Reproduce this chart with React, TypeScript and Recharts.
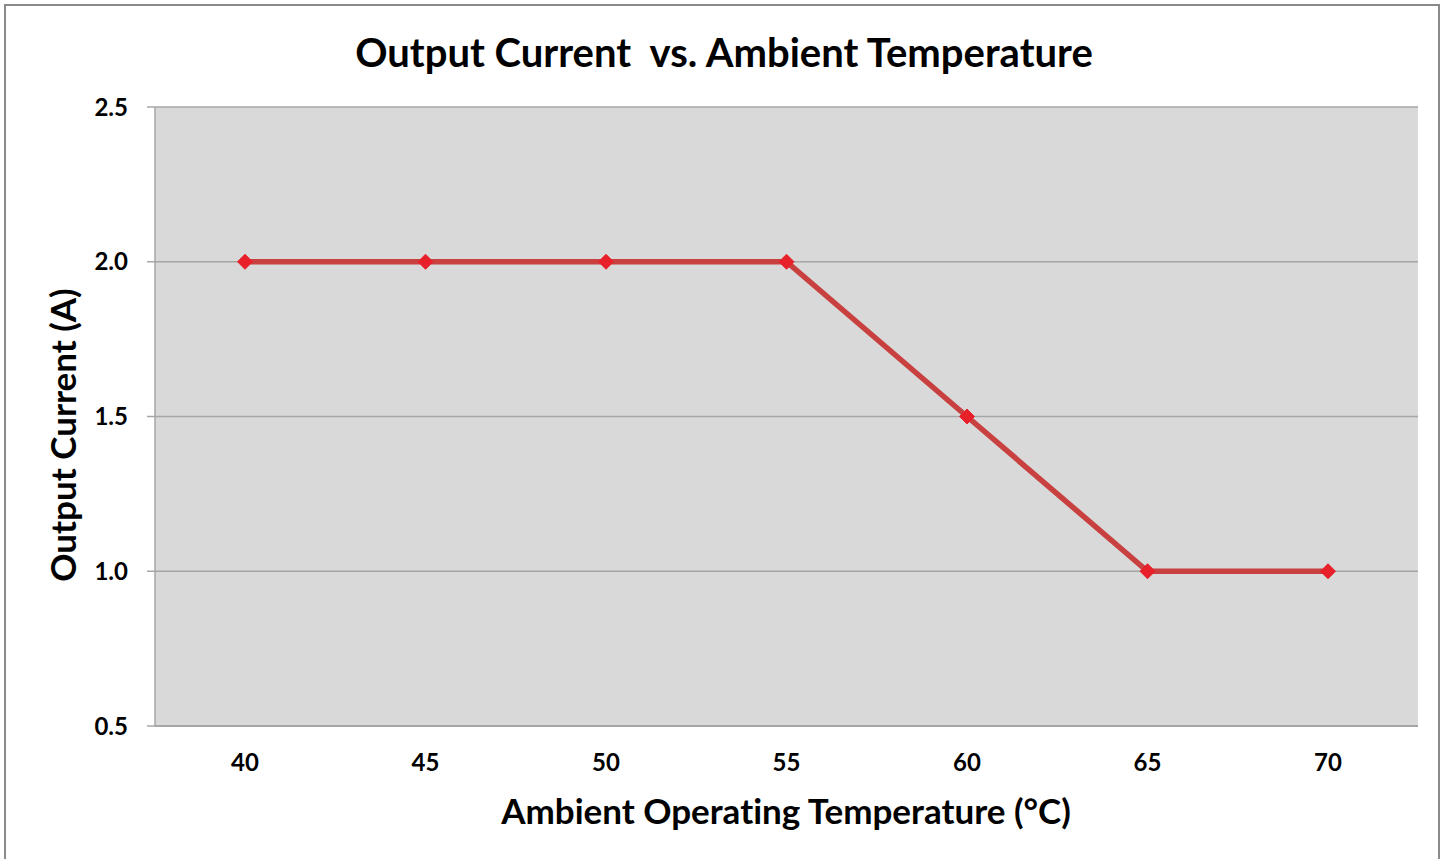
import React from "react";
import { LineChart, Line, XAxis, YAxis, CartesianGrid } from "recharts";

const temperatures = ["40", "45", "50", "55", "60", "65", "70"];
const currents = [2.0, 2.0, 2.0, 2.0, 1.5, 1.0, 1.0];
const yTicks = [0.5, 1.0, 1.5, 2.0, 2.5];

const data = temperatures.map((t, i) => ({ temp: t, current: currents[i] }));

const FONT = "Lato, 'Open Sans', sans-serif";

const Diamond = (props: any) => {
  const { cx, cy } = props;
  if (cx == null || cy == null) return null;
  const r = 7.5;
  return (
    <polygon
      points={`${cx},${cy - r} ${cx + r},${cy} ${cx},${cy + r} ${cx - r},${cy}`}
      fill="#E8202A"
      stroke="#E8202A"
      strokeWidth={1}
    />
  );
};

const textBase: React.CSSProperties = {
  position: "absolute",
  fontFamily: FONT,
  fontWeight: 700,
  color: "#000",
  fontVariantLigatures: "none",
  fontFeatureSettings: '"liga" 0, "clig" 0',
};

export default function App() {
  return (
    <div style={{ position: "absolute", left: 0, top: 0, width: 1449, height: 859, background: "#fff", overflow: "hidden" }}>
      <div style={{ position: "absolute", left: 4, top: 4, width: 1436, height: 870, border: "2px solid #8a8a8a", boxSizing: "border-box" }} />
      <div style={{ ...textBase, left: 724, top: 52, transform: "translate(-50%, -50%)", fontSize: 40, whiteSpace: "pre" }}>
        {"Output Current  vs. Ambient Temperature"}
      </div>
      <div style={{ ...textBase, left: 62, top: 435, transform: "translate(-50%, -50%) rotate(-90deg)", fontSize: 35, whiteSpace: "nowrap" }}>
        Output Current (A)
      </div>
      <div style={{ ...textBase, left: 786, top: 810, transform: "translate(-50%, -50%)", fontSize: 35, whiteSpace: "nowrap" }}>
        Ambient Operating Temperature (°C)
      </div>
      <div style={{ position: "absolute", left: 0, top: 0 }}>
        <LineChart width={1449} height={859} data={data} margin={{ top: 107, right: 31, bottom: 93, left: 95 }}>
          <CartesianGrid vertical={false} fill="#D9D9D9" stroke="#A6A6A6" strokeWidth={1.5} />
          <XAxis
            dataKey="temp"
            height={40}
            padding={{ left: 90, right: 90 }}
            tickLine={false}
            axisLine={{ stroke: "#A6A6A6", strokeWidth: 2 }}
            tickMargin={22}
            tick={{ fill: "#000", fontFamily: FONT, fontWeight: 700, fontSize: 24 }}
          />
          <YAxis
            width={60}
            domain={[0.5, 2.5]}
            ticks={yTicks}
            tickFormatter={(v: number) => v.toFixed(1)}
            tickSize={8}
            tickMargin={19}
            tickLine={{ stroke: "#A6A6A6", strokeWidth: 1.5 }}
            axisLine={{ stroke: "#A6A6A6", strokeWidth: 1.5 }}
            tick={{ fill: "#000", fontFamily: FONT, fontWeight: 700, fontSize: 24 }}
          />
          <Line
            type="linear"
            dataKey="current"
            stroke="#C8403F"
            strokeWidth={5.5}
            dot={<Diamond />}
            activeDot={false}
            isAnimationActive={false}
          />
        </LineChart>
      </div>
    </div>
  );
}
